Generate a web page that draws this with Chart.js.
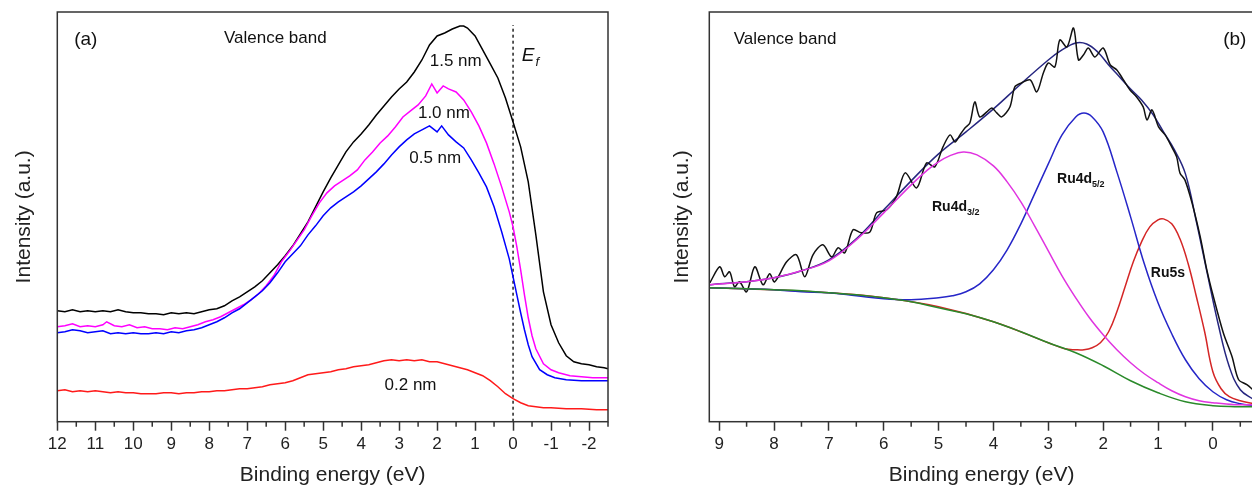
<!DOCTYPE html>
<html>
<head>
<meta charset="utf-8">
<title>Valence band spectra</title>
<script src="https://cdn.jsdelivr.net/npm/chart.js@4"></script>
<style>
  html, body { margin: 0; padding: 0; background: #fff; overflow: hidden; }
  body { width: 1252px; height: 486px; position: relative; }
  canvas { position: absolute; top: 0; }
  #left { left: 0; }
  #right { left: 625px; }
</style>
</head>
<body>
<canvas id="left" width="625" height="486"></canvas>
<canvas id="right" width="640" height="486"></canvas>
<script>
const FONT = '"Liberation Sans", Arial, sans-serif';
Chart.defaults.font.family = FONT;
Chart.defaults.color = '#222';

// ---- panel (a): valence band vs. film thickness ----
const energy15 = [12,11.8,11.6,11.4,11.2,11,10.8,10.6,10.4,10.2,10,9.8,9.6,9.4,9.2,9.0,8.8,8.6,8.4,8.2,8.0,7.8,7.6,7.4,7.2,7.0,6.8,6.6,6.4,6.2,6.0,5.8,5.6,5.4,5.2,5.0,4.8,4.6,4.4,4.2,4.0,3.8,3.6,3.4,3.2,3.0,2.8,2.6,2.4,2.2,2.0,1.8,1.6,1.4,1.3,1.2,1.0,0.8,0.6,0.4,0.2,0.0,-0.2,-0.4,-0.6,-0.8,-1.0,-1.2,-1.4,-1.6,-1.8,-2.0,-2.2,-2.4,-2.5];
const int15 = [111,110,112,110,111,110,111,110,112,110,109,109,108,108,107,109,108,109,108,110,112,113,116,121,125,130,135,141,149,157,166,176,188,200,215,230,244,257,270,280,288,297,307,316,325,333,340,350,362,377,386,389,393,396,396,394,386,372,358,344,324,300,275,240,187,130,97,79,66,60,58,57,55,54,53];

const energy10 = [12,11.8,11.6,11.4,11.2,11,10.8,10.7,10.5,10.3,10.1,9.9,9.7,9.5,9.3,9.1,8.9,8.7,8.5,8.3,8.1,7.9,7.7,7.5,7.3,7.1,6.9,6.7,6.5,6.3,6.1,5.9,5.7,5.5,5.3,5.1,4.9,4.7,4.5,4.3,4.1,3.9,3.7,3.5,3.3,3.1,2.9,2.7,2.5,2.3,2.14,2.0,1.84,1.7,1.5,1.3,1.1,0.9,0.7,0.5,0.3,0.1,0,-0.1,-0.2,-0.3,-0.4,-0.5,-0.6,-0.8,-1.0,-1.2,-1.5,-1.8,-2.1,-2.5];
const int10 = [95,96,98,95,96,95,97,100,96,95,97,94,95,93,93,92,94,93,95,97,100,102,105,109,113,117,122,128,136,146,160,170,181,192,206,219,229,236,241,246,252,262,270,279,286,295,305,311,317,326,338,329,336,333,330,322,310,296,279,258,235,210,195,175,152,127,104,86,73,58,52,49,46,45,44,44];

const energy05 = [12,11.8,11.6,11.4,11.2,11,10.8,10.6,10.4,10.2,10,9.8,9.6,9.4,9.2,9.0,8.8,8.6,8.4,8.2,8.0,7.8,7.6,7.4,7.2,7.0,6.8,6.6,6.4,6.2,6.0,5.8,5.6,5.4,5.2,5.0,4.8,4.6,4.4,4.2,4.0,3.8,3.6,3.4,3.2,3.0,2.8,2.6,2.4,2.2,2.0,1.88,1.7,1.5,1.3,1.1,0.9,0.7,0.5,0.3,0.1,0,-0.1,-0.2,-0.3,-0.4,-0.5,-0.7,-0.9,-1.1,-1.4,-1.8,-2.2,-2.5];
const int05 = [89,90,92,91,89,90,91,88,89,88,89,88,88,89,88,90,89,91,92,94,97,100,104,109,113,119,125,131,139,149,160,168,176,187,196,206,214,220,225,230,236,243,250,258,267,275,282,288,292,296,290,296,287,280,274,262,249,235,215,190,163,145,127,109,92,77,65,52,47,44,42,41,41,41];

const energy02 = [12,11.8,11.6,11.4,11.2,11,10.8,10.6,10.4,10.2,10,9.8,9.6,9.4,9.2,9.0,8.8,8.6,8.4,8.2,8.0,7.8,7.6,7.4,7.2,7.0,6.8,6.6,6.4,6.2,6.0,5.8,5.6,5.4,5.2,5.0,4.8,4.6,4.4,4.2,4.0,3.8,3.6,3.4,3.2,3.0,2.8,2.6,2.4,2.2,2.0,1.8,1.6,1.4,1.2,1.0,0.8,0.6,0.4,0.2,0.0,-0.2,-0.4,-0.6,-0.8,-1.0,-1.4,-1.8,-2.2,-2.5];
const int02 = [31,32,30,31,30,31,30,29,30,29,29,28,28,28,29,29,28,29,29,30,30,31,31,32,33,33,34,35,37,38,39,41,44,47,48,49,50,52,53,55,56,57,59,61,62,61,62,61,62,60,60,58,56,54,52,49,46,41,35,28,23,19,16,15,14,14,13,13,12,12];

const fermiX = [0, 0];
const fermiY = [0, 397];

// ---- panel (b): fitted valence band ----
const energyRaw = [9.17,8.99,8.90,8.81,8.72,8.63,8.50,8.35,8.20,8.08,7.99,7.77,7.59,7.44,7.29,7.11,6.95,6.83,6.71,6.56,6.41,6.25,6.13,5.95,5.77,5.61,5.40,5.22,5.07,4.92,4.79,4.70,4.61,4.52,4.43,4.34,4.25,4.12,4.03,3.94,3.85,3.70,3.61,3.49,3.33,3.21,3.09,3.0,2.88,2.79,2.66,2.54,2.45,2.36,2.27,2.15,2.0,1.87,1.75,1.63,1.51,1.39,1.27,1.20,1.11,0.99,0.87,0.75,0.66,0.60,0.51,0.38,0.23,0.11,-0.01,-0.19,-0.35,-0.47,-0.62,-0.75];
const intRaw = [139,155,145,150,135,140,130,155,137,148,140,160,167,145,167,177,165,174,169,192,189,190,209,212,225,249,234,259,255,275,287,280,287,294,299,320,305,310,314,309,305,315,335,339,342,330,349,359,355,382,375,394,362,367,374,365,374,357,352,342,332,325,315,302,312,295,287,275,265,249,242,219,185,152,125,89,65,42,37,31];

const energyFit = [9.18,9,8.5,8,7.5,7,6.5,6,5.5,5,4.5,4,3.5,3,2.75,2.5,2.3,2.1,1.9,1.7,1.5,1.3,1.1,0.9,0.7,0.5,0.3,0.1,-0.1,-0.3,-0.5,-0.75];
const intFit = [137,138,140,144,151,162,183,212,241,268,290,313,338,362,372,379,378,370,357,345,333,322,308,290,272,248,200,148,97,55,32,22];

const energyD32 = [9.18,8.5,8,7.5,7,6.5,6,5.5,5.2,5,4.8,4.55,4.3,4,3.75,3.5,3.25,3,2.75,2.5,2.25,2,1.75,1.5,1.25,1,0.75,0.5,0.25,0,-0.4,-0.75];
const intD32 = [137,140,144,151,161,182,209,237,252,260,266,270,267,256,240,220,196,171,146,124,104,87,72,59,48,39,31,25,21,19,17,17];

const energyD52 = [9.18,8.5,8,7.5,7,6.5,6,5.5,5,4.75,4.5,4.25,4,3.75,3.5,3.25,3,2.75,2.5,2.35,2.2,2,1.75,1.5,1.25,1,0.75,0.5,0.25,0,-0.25,-0.5,-0.75];
const intD52 = [134,133,132,130,129,126,123,122,124,126,130,138,152,172,198,228,258,287,305,309,305,290,250,205,158,119,88,62,43,30,22,18,16];

const energy5s = [9.18,8,7,6,5,4,3,2.7,2.5,2.35,2.2,2.05,1.9,1.75,1.6,1.45,1.3,1.15,1.0,0.9,0.75,0.6,0.45,0.3,0.15,0,-0.15,-0.3,-0.5,-0.75];
const int5s = [134,132,129,124,115,100,79,73,72,72,74,79,90,110,135,160,180,195,202,203,198,183,158,125,90,50,33,25,21,18];

const energyBg = [9.18,8.5,8,7.5,7,6.5,6,5.5,5,4.5,4,3.5,3,2.5,2,1.5,1,0.5,0,-0.4,-0.75];
const intBg = [134,133,132,131,129,127,124,120,114,108,100,90,79,69,56,41,29,20,16,15,15];

const pts = (xs, ys) => xs.map((x, i) => ({ x, y: ys[i] }));

function line(data, color, extra) {
  return Object.assign({ data, borderColor: color, borderWidth: 1.5, pointRadius: 0, showLine: true, tension: 0, fill: false }, extra || {});
}

// frame box + short minor ticks on the half steps
const framePlugin = {
  id: 'frame',
  afterDraw(chart) {
    const { ctx, chartArea: a, scales: { x } } = chart;
    ctx.save();
    ctx.strokeStyle = '#333';
    ctx.lineWidth = 1.5;
    ctx.strokeRect(a.left, a.top, a.right - a.left, a.bottom - a.top);
    ctx.beginPath();
    x.ticks.forEach(t => {
      if (!Number.isInteger(t.value)) {
        const px = x.getPixelForValue(t.value);
        ctx.moveTo(px, a.bottom);
        ctx.lineTo(px, a.bottom + 5);
      }
    });
    ctx.stroke();
    ctx.restore();
  }
};

// in-plot text, placed in data coordinates
const textPlugin = {
  id: 'texts',
  afterDatasetsDraw(chart, args, opts) {
    const { ctx, scales: { x, y } } = chart;
    ctx.save();
    ctx.fillStyle = '#111';
    ctx.textBaseline = 'middle';
    (opts.items || []).forEach(it => {
      const px = x.getPixelForValue(it.e);
      const py = y.getPixelForValue(it.v);
      ctx.font = it.font;
      ctx.textAlign = it.align || 'center';
      ctx.fillText(it.text, px, py);
      if (it.sub) {
        const w = ctx.measureText(it.text).width;
        ctx.font = it.subFont;
        ctx.textAlign = 'left';
        ctx.fillText(it.sub, px + w + (it.subGap || 0), py + it.subDy);
      }
    });
    ctx.restore();
  }
};

function xScale(min, max, showLabel, plotH) {
  return {
    type: 'linear', reverse: true, min, max,
    afterFit: s => { s.height = plotH; },
    border: { display: false },
    grid: {
      drawOnChartArea: false, drawTicks: true, tickLength: 9, tickWidth: 1.5,
      tickColor: c => Number.isInteger(c.tick.value) ? '#333' : 'rgba(0,0,0,0)'
    },
    ticks: {
      stepSize: 0.5, includeBounds: false, autoSkip: false, maxRotation: 0, maxTicksLimit: 100,
      padding: 3, color: '#222', font: { size: 17 },
      callback: v => (Number.isInteger(v) && showLabel(v)) ? String(v) : ''
    },
    title: { display: true, text: 'Binding energy (eV)', font: { size: 21, lineHeight: 1 }, color: '#222', padding: 0 }
  };
}

function yScale(width, titlePad) {
  return {
    type: 'linear', min: 0, max: 410,
    afterFit: s => { s.width = width; },
    border: { display: false },
    grid: { display: false },
    ticks: { display: false },
    title: { display: true, text: 'Intensity (a.u.)', font: { size: 21, lineHeight: 1.2 }, color: '#222', padding: { top: titlePad, bottom: 0 } }
  };
}

new Chart(document.getElementById('left'), {
  type: 'scatter',
  data: {
    datasets: [
      line(pts(energy02, int02), '#ff1a1a'),
      line(pts(energy05, int05), '#0000ff'),
      line(pts(energy10, int10), '#ff00ff'),
      line(pts(energy15, int15), '#000000'),
      line(pts(fermiX, fermiY), '#000000', { borderWidth: 1.3, borderDash: [3, 3] })
    ]
  },
  options: {
    responsive: false, animation: false,
    layout: { padding: { left: 0, right: 17, top: 12, bottom: 0 } },
    plugins: {
      legend: { display: false }, tooltip: { enabled: false },
      texts: {
        items: [
          { text: '(a)', e: 11.25, v: 382, font: '19px ' + FONT },
          { text: 'Valence band', e: 6.26, v: 384, font: '17px ' + FONT },
          { text: '1.5 nm', e: 1.51, v: 361, font: '17px ' + FONT },
          { text: '1.0 nm', e: 1.82, v: 309, font: '17px ' + FONT },
          { text: '0.5 nm', e: 2.05, v: 264, font: '17px ' + FONT },
          { text: '0.2 nm', e: 2.7, v: 36, font: '17px ' + FONT },
          { text: 'E', e: -0.23, v: 366, align: 'left', font: 'italic 19px ' + FONT, sub: 'f', subFont: 'italic 13px ' + FONT, subDy: 6, subGap: 1 }
        ]
      }
    },
    scales: {
      x: xScale(-2.5, 12, () => true, 64.3),
      y: yScale(57.3, 12)
    }
  },
  plugins: [framePlugin, textPlugin]
});

new Chart(document.getElementById('right'), {
  type: 'scatter',
  data: {
    datasets: [
      line(pts(energyBg, intBg), '#2a8a2a', { tension: 0.4 }),
      line(pts(energyD32, intD32), '#e034e0', { tension: 0.4 }),
      line(pts(energyD52, intD52), '#2626c8', { tension: 0.4 }),
      line(pts(energy5s, int5s), '#d42626', { tension: 0.4 }),
      line(pts(energyRaw, intRaw), '#111111', { tension: 0.3 }),
      line(pts(energyFit, intFit), '#262680', { tension: 0.4 })
    ]
  },
  options: {
    responsive: false, animation: false,
    layout: { padding: { left: 0, right: 11, top: 12, bottom: 0 } },
    plugins: {
      legend: { display: false }, tooltip: { enabled: false },
      texts: {
        items: [
          { text: 'Valence band', e: 7.8, v: 383, font: '17px ' + FONT },
          { text: '(b)', e: -0.4, v: 382, font: '19px ' + FONT },
          { text: 'Ru4d', e: 5.12, v: 215, align: 'left', font: 'bold 14px ' + FONT, sub: '3/2', subFont: 'bold 9px ' + FONT, subDy: 6 },
          { text: 'Ru4d', e: 2.84, v: 243, align: 'left', font: 'bold 14px ' + FONT, sub: '5/2', subFont: 'bold 9px ' + FONT, subDy: 6 },
          { text: 'Ru5s', e: 1.13, v: 149, align: 'left', font: 'bold 14px ' + FONT }
        ]
      }
    },
    scales: {
      x: xScale(-0.75, 9.18, v => v >= 0, 64.3),
      y: yScale(84.3, 45)
    }
  },
  plugins: [framePlugin, textPlugin]
});
</script>
</body>
</html>
